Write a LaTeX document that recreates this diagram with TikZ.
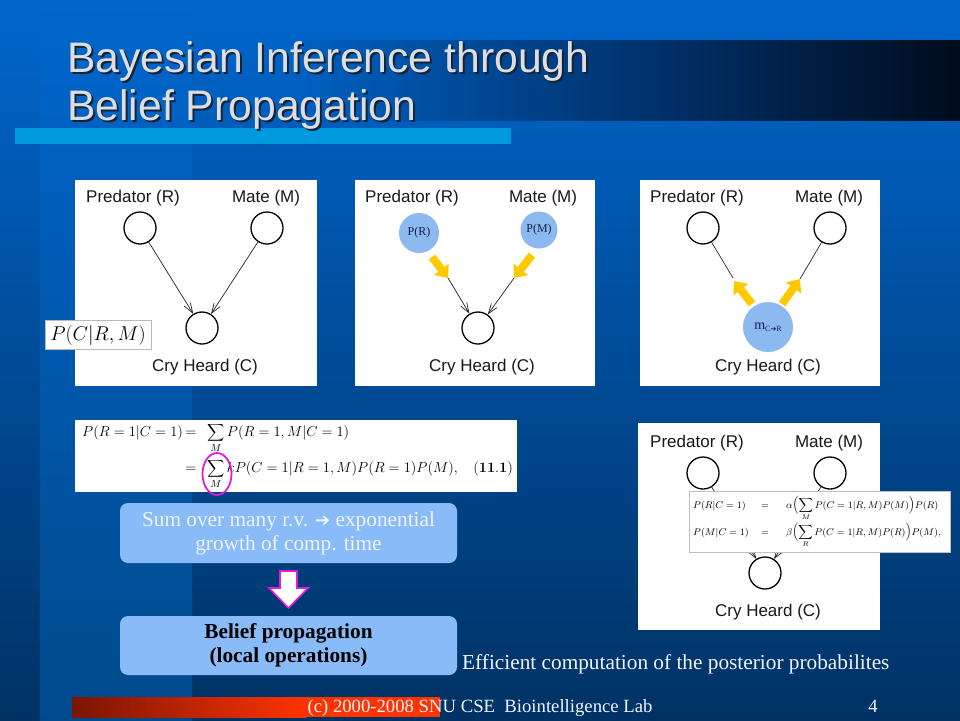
\RequirePackage{fix-cm}
\documentclass[tikz,border=0pt]{standalone}
\usepackage{exscale}
\usepackage[no-math]{fontspec}
\setmainfont{Liberation Serif}
\newfontfamily\arial{Liberation Sans}
\newfontfamily\dejavu{DejaVu Sans}
\usetikzlibrary{arrows.meta,shapes.geometric}
\newcommand\mysmallsum[1]{\mathop{\hbox{\fontsize{12.5}{14}\selectfont$\displaystyle\sum$}}\limits_{#1}}
\definecolor{bgtop}{RGB}{0,102,204}
\definecolor{bgbot}{RGB}{0,50,100}
\definecolor{bandbot}{RGB}{0,74,140}
\definecolor{barleft}{RGB}{0,96,192}
\definecolor{barmid}{RGB}{0,52,112}
\definecolor{barright}{RGB}{0,12,28}
\definecolor{cyanline}{RGB}{0,153,221}
\definecolor{titletext}{RGB}{222,222,222}
\definecolor{titleshadow}{RGB}{20,35,60}
\definecolor{boxblue}{RGB}{136,187,248}
\definecolor{nodeblue}{RGB}{140,185,240}
\definecolor{myyellow}{RGB}{255,200,0}
\definecolor{mymag}{RGB}{220,30,220}
\definecolor{navytext}{RGB}{20,30,80}
\definecolor{footredA}{RGB}{122,21,0}
\definecolor{footredB}{RGB}{255,51,0}
\definecolor{softwhite}{RGB}{240,244,255}
\begin{document}
\begin{tikzpicture}[x=1pt,y=-1pt,
  lbl/.style={font=\arial\fontsize{17}{17}\selectfont, text=black!90, inner sep=0pt},
  bn/.style={circle, draw=black, line width=1.3pt, minimum size=32pt, inner sep=0pt, fill=white},
  bluen/.style={circle, fill=nodeblue, inner sep=0pt, text=navytext, font=\fontsize{12}{12}\selectfont},
  thinarrow/.style={draw=black!85, line width=0.7pt, -{Straight Barb[length=10pt,width=7pt]}},
  plainline/.style={draw=black!85, line width=0.7pt},
  yarrow/.style={draw=myyellow, line width=8pt, -{Triangle[length=11pt,width=18pt]}},
  panel/.style={fill=white, inner sep=0pt, anchor=north west},
  roundbox/.style={fill=boxblue, rounded corners=8pt, inner sep=0pt, align=center,
    minimum width=337pt, font=\fontsize{21.3}{24}\selectfont},
  titlestyle/.style={font=\arial\fontsize{42.7}{48}\selectfont, anchor=base west, inner sep=0pt},
  eqL/.style={font=\fontsize{14.5}{17}\selectfont, inner sep=0pt},
  eqS/.style={font=\fontsize{9.8}{11}\selectfont, inner sep=0pt}
]
\useasboundingbox (0,0) rectangle (960,720);
% background
\shade[top color=bgtop,bottom color=bgbot] (0,0) rectangle (960,720);
\shade[top color=bgtop,bottom color=bandbot] (40,0) rectangle (192,720);
% title bar
\shade[left color=barleft,right color=barmid] (300,40) rectangle (630,120);
\shade[left color=barmid,right color=barright] (629.5,40) rectangle (960,120);
\fill[cyanline] (15,128) rectangle (511,144);
% title
\node[titlestyle, text=titleshadow] (t1s) at (69,74) {Bayesian Inference through};
\node[titlestyle, text=titleshadow] (t2s) at (69,122) {Belief Propagation};
\node[titlestyle, text=titletext] (t1) at (67,72) {Bayesian Inference through};
\node[titlestyle, text=titletext] (t2) at (67,120) {Belief Propagation};

% ---------- panel 1
\node[panel, minimum width=242pt, minimum height=206pt] (p1) at (75,180) {};
\node[lbl] (p1r) at (133,198) {Predator (R)};
\node[lbl] (p1m) at (266,198) {Mate (M)};
\node[lbl] (p1c) at (205,367) {Cry Heard (C)};
\node[bn] (R1) at (140,228) {};
\node[bn] (M1) at (267,228) {};
\node[bn] (C1) at (202,328) {};
\draw[thinarrow] (R1) -- (C1);
\draw[thinarrow] (M1) -- (C1);
\node[draw=gray!55, fill=white, line width=0.6pt, minimum width=106pt, minimum height=29pt, inner sep=0pt,
  font=\fontsize{20}{22}\selectfont] (pcrm) at (98,335) {$P(C|R,M)$};

% ---------- panel 2
\node[panel, minimum width=240pt, minimum height=206pt] (p2) at (355,180) {};
\node[lbl] (p2r) at (412,198) {Predator (R)};
\node[lbl] (p2m) at (543,198) {Mate (M)};
\node[lbl] (p2c) at (482,367) {Cry Heard (C)};
\node[bluen, minimum size=40pt] (PR) at (419,233) {P(R)};
\node[bluen, minimum size=37pt] (PM) at (539,230) {P(M)};
\node[bn] (C2) at (478,328) {};
\coordinate (y1s) at (432,257);
\coordinate (y1e) at (448,278);
\coordinate (y2s) at (532,255);
\coordinate (y2e) at (514,278);
\draw[yarrow] (y1s) -- (y1e);
\draw[yarrow] (y2s) -- (y2e);
\draw[thinarrow] (y1e) -- (C2);
\draw[thinarrow] (y2e) -- (C2);

% ---------- panel 3
\node[panel, minimum width=240pt, minimum height=206pt] (p3) at (640,180) {};
\node[lbl] (p3r) at (697,198) {Predator (R)};
\node[lbl] (p3m) at (829,198) {Mate (M)};
\node[lbl] (p3c) at (768,367) {Cry Heard (C)};
\node[bn] (R3) at (703,228) {};
\node[bn] (M3) at (830,228) {};
\node[bluen, minimum size=50pt] (C3) at (768,327)
  {{\fontsize{14}{14}\selectfont m}\raisebox{-2.5pt}{\fontsize{8}{8}\selectfont C{\dejavu\fontsize{7}{7}\selectfont ➔}R}};
\coordinate (l1e) at (733,278);
\coordinate (l2e) at (800,279);
\draw[plainline] (R3) -- (l1e);
\draw[plainline] (M3) -- (l2e);
\coordinate (ya3s) at (752,304);
\coordinate (ya3e) at (734,281);
\coordinate (yb3s) at (782,304);
\coordinate (yb3e) at (800,279);
\draw[yarrow] (ya3s) -- (ya3e);
\draw[yarrow] (yb3s) -- (yb3e);

% ---------- panel 4
\node[panel, minimum width=242pt, minimum height=207pt] (p4) at (638,423) {};
\node[lbl] (p4r) at (697,443) {Predator (R)};
\node[lbl] (p4m) at (829,443) {Mate (M)};
\node[lbl] (p4c) at (768,612) {Cry Heard (C)};
\node[bn] (R4) at (703,473) {};
\node[bn] (M4) at (830,473) {};
\node[bn] (C4) at (765,573) {};
\draw[thinarrow] (R4) -- (C4);
\draw[thinarrow] (M4) -- (C4);
\node[draw=gray!50, fill=white, line width=0.6pt, minimum width=261pt, minimum height=61pt, inner sep=0pt,
  anchor=north west] (eqb) at (689,491) {};
\node[eqS, anchor=base west] (b1l) at (693,508) {$P(R|C=1)$};
\node[eqS, anchor=base] (b1e) at (765,508) {$=$};
\node[eqS, anchor=base west] (b1r) at (786,508)
  {$\alpha\Bigl(\displaystyle\sum_M P(C=1|R,M)P(M)\Bigr)P(R)$};
\node[eqS, anchor=base west] (b2l) at (693,535) {$P(M|C=1)$};
\node[eqS, anchor=base] (b2e) at (765,535) {$=$};
\node[eqS, anchor=base west] (b2r) at (786,535)
  {$\beta\Bigl(\displaystyle\sum_R P(C=1|R,M)P(R)\Bigr)P(M),$};

% ---------- equation 11.1
\node[panel, minimum width=442pt, minimum height=72pt] (eqa) at (75,420) {};
\node[eqL, anchor=base west] (a1l) at (82,436) {$P(R=1|C=1)$};
\node[eqL, anchor=base] (a1e) at (191,436) {$=$};
\node[eqL, anchor=base west] (a1r) at (207,436) {$\mysmallsum{M} P(R=1,M|C=1)$};
\node[eqL, anchor=base] (a2e) at (191,472) {$=$};
\node[eqL, anchor=base west] (a2r) at (207,472) {$\mysmallsum{M} kP(C=1|R=1,M)P(R=1)P(M),$};
\node[eqL, anchor=base east] (a2n) at (513,472) {$\mathbf{(11.1)}$};
\node[draw=mymag, line width=1.8pt, ellipse, minimum width=29pt, minimum height=42pt, inner sep=0pt] (circ) at (217,474) {};

% ---------- boxes
\node[roundbox, minimum height=60pt, text=softwhite] (sumbox) at (288.5,533)
  {Sum over many r.v. {\dejavu\fontsize{18}{18}\selectfont ➔} exponential\\growth of comp. time};
\node[roundbox, minimum height=59pt, text=black, font=\bfseries\fontsize{21.3}{24}\selectfont] (bpbox) at (288.5,645.5)
  {Belief propagation\\(local operations)};
\draw[draw=mymag, fill=white, line width=1.6pt, line join=miter]
  (280,571) -- (297,571) -- (297,588) -- (308,588) -- (288.5,608) -- (269,588) -- (280,588) -- cycle;

\node[anchor=base west, inner sep=0pt, text=softwhite, font=\fontsize{21.3}{24}\selectfont] (eff) at (462,669)
  {Efficient computation of the posterior probabilites};

% ---------- footer
\shade[left color=footredA,right color=footredB] (72,697) rectangle (306,717);
\fill[footredB] (305.5,697) rectangle (440,717);
\node[anchor=base, inner sep=0pt, text=softwhite, font=\fontsize{18.7}{20}\selectfont] (foot) at (480,712)
  {(c) 2000-2008 SNU CSE\ \ Biointelligence Lab};
\node[anchor=base, inner sep=0pt, text=softwhite, font=\fontsize{18.7}{20}\selectfont] (pg) at (873,712) {4};
\end{tikzpicture}
\end{document}
